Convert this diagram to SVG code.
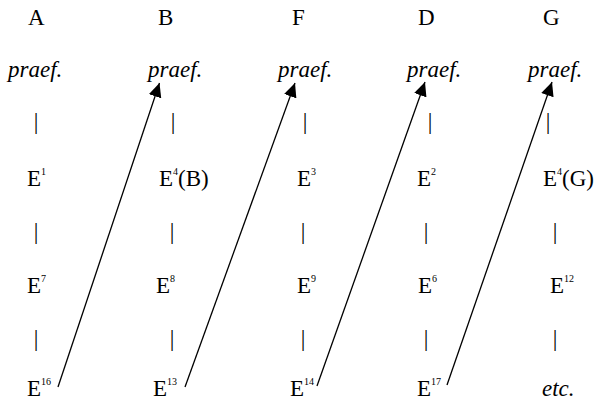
<svg xmlns="http://www.w3.org/2000/svg" width="597" height="402" viewBox="0 0 597 402">
<style>
text{font-family:'Liberation Serif','Times New Roman',serif;font-size:23px;fill:#000}
.i{font-style:italic}
.b{text-anchor:middle}
.s{font-size:10px}
.c{stroke:#000;stroke-width:1.3;fill:none}
</style>
<defs>
<marker id="ah" markerUnits="userSpaceOnUse" markerWidth="16" markerHeight="14" refX="14" refY="6.5" orient="auto">
<path d="M0,0 L14,6.5 L0,13 z" fill="#000"/>
</marker>
</defs>
<rect width="597" height="402" fill="#fff"/>
<g id="colA">
<text x="28" y="25">A</text>
<text class="i" x="8" y="77">praef.</text>
<text class="b" x="36" y="129">|</text>
<text x="27" y="186">E<tspan class="s" dy="-11">1</tspan></text>
<text class="b" x="36" y="239">|</text>
<text x="27" y="293">E<tspan class="s" dy="-11">7</tspan></text>
<text class="b" x="36" y="346">|</text>
<text x="27" y="396">E<tspan class="s" dy="-11">16</tspan></text>
</g>
<g id="colB">
<text x="158" y="25">B</text>
<text class="i" x="148" y="77">praef.</text>
<text class="b" x="173" y="129">|</text>
<text x="159" y="186">E<tspan class="s" dy="-11">4</tspan><tspan dy="11">(B)</tspan></text>
<text class="b" x="172" y="239">|</text>
<text x="156" y="293">E<tspan class="s" dy="-11">8</tspan></text>
<text class="b" x="172" y="346">|</text>
<text x="153" y="396">E<tspan class="s" dy="-11">13</tspan></text>
</g>
<g id="colF">
<text x="292" y="25">F</text>
<text class="i" x="278" y="77">praef.</text>
<text class="b" x="305" y="129">|</text>
<text x="297" y="186">E<tspan class="s" dy="-11">3</tspan></text>
<text class="b" x="303" y="239">|</text>
<text x="297" y="293">E<tspan class="s" dy="-11">9</tspan></text>
<text class="b" x="303" y="346">|</text>
<text x="290" y="396">E<tspan class="s" dy="-11">14</tspan></text>
</g>
<g id="colD">
<text x="418" y="25">D</text>
<text class="i" x="407" y="77">praef.</text>
<text class="b" x="430" y="129">|</text>
<text x="417" y="186">E<tspan class="s" dy="-11">2</tspan></text>
<text class="b" x="426" y="239">|</text>
<text x="418" y="293">E<tspan class="s" dy="-11">6</tspan></text>
<text class="b" x="426" y="346">|</text>
<text x="417" y="396">E<tspan class="s" dy="-11">17</tspan></text>
</g>
<g id="colG">
<text x="543" y="25">G</text>
<text class="i" x="528" y="77">praef.</text>
<text class="b" x="548" y="129">|</text>
<text x="543" y="186">E<tspan class="s" dy="-11">4</tspan><tspan dy="11">(G)</tspan></text>
<text class="b" x="555" y="239">|</text>
<text x="550" y="293">E<tspan class="s" dy="-11">12</tspan></text>
<text class="b" x="555" y="346">|</text>
<text class="i" x="542" y="396">etc.</text>
</g>
<g id="connectors">
<line class="c" x1="58" y1="387" x2="159.5" y2="83" marker-end="url(#ah)"/>
<line class="c" x1="185" y1="387" x2="295" y2="83" marker-end="url(#ah)"/>
<line class="c" x1="317" y1="386" x2="425" y2="82" marker-end="url(#ah)"/>
<line class="c" x1="447" y1="385" x2="552" y2="82" marker-end="url(#ah)"/>
</g>
</svg>
